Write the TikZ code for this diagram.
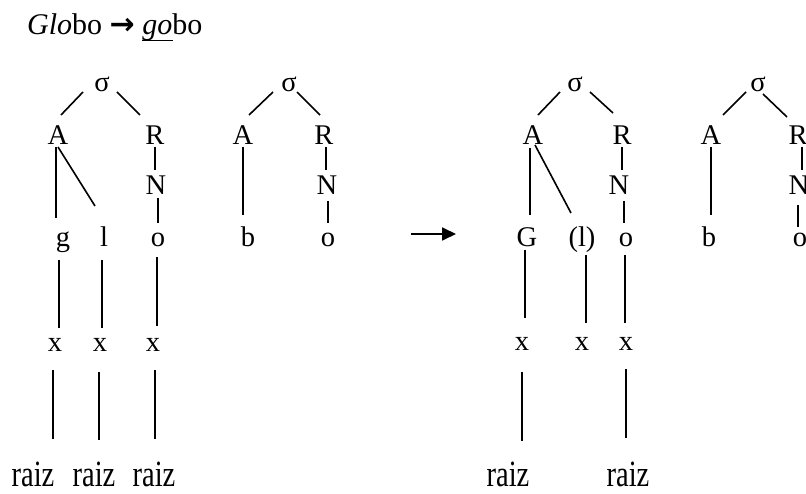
\documentclass[tikz,border=0pt]{standalone}
\usepackage{fontspec}
\setmainfont{Liberation Serif}
\newfontfamily\arrowfont{DejaVu Sans}
\usetikzlibrary{calc,arrows.meta}
\newcommand\mylink[6]{\draw ($(#1.base)+(#2,#3)$) -- ($(#4.base)+(#5,#6)$);}
\newcommand\tallraiz{\scalebox{1}[1.3]{raiz}}
\begin{document}
\begin{tikzpicture}[x=1pt,y=-1pt,
  lbl/.style={anchor=base,inner sep=0pt,font=\fontsize{28.5}{34}\selectfont},
  upper/.style={line width=1.6pt},
  lower/.style={line width=1.3pt}]
\useasboundingbox (0,0) rectangle (806,494);
% title
\node[lbl,anchor=base west,font=\fontsize{30}{36}\selectfont] (title) at (27,35) {\textit{Glo}bo {\arrowfont\bfseries →} \rlap{\rule[-6pt]{31pt}{1.3pt}}\textit{go}bo};
% ---------- tree 1a ----------
\node[lbl] (s1) at (102,92) {σ};
\node[lbl] (a1) at (58,145) {A};
\node[lbl] (r1) at (155,145) {R};
\node[lbl] (n1) at (156,195) {N};
\node[lbl] (g1) at (63,247) {g};
\node[lbl] (l1) at (104,247) {l};
\node[lbl] (o1) at (158,247) {o};
\node[lbl] (x1) at (55,352) {x};
\node[lbl] (x2) at (100,352) {x};
\node[lbl] (x3) at (153,352) {x};
\node[lbl] (z1) at (33,486) {\tallraiz};
\node[lbl] (z2) at (94,486) {\tallraiz};
\node[lbl] (z3) at (154,486) {\tallraiz};
% ---------- tree 1b ----------
\node[lbl] (s2) at (289,92) {σ};
\node[lbl] (a2) at (243,145) {A};
\node[lbl] (r2) at (324,145) {R};
\node[lbl] (n2) at (327,195) {N};
\node[lbl] (b1) at (248,247) {b};
\node[lbl] (o2) at (328,247) {o};
% ---------- tree 2a ----------
\node[lbl] (s3) at (575,92) {σ};
\node[lbl] (a3) at (533,145) {A};
\node[lbl] (r3) at (622,145) {R};
\node[lbl] (n3) at (619,195) {N};
\node[lbl] (G) at (527,247) {G};
\node[lbl] (lp) at (582,247) {(l)};
\node[lbl] (o3) at (626,247) {o};
\node[lbl] (x4) at (522,351) {x};
\node[lbl] (x5) at (582,351) {x};
\node[lbl] (x6) at (626,351) {x};
\node[lbl] (z4) at (508,486) {\tallraiz};
\node[lbl] (z5) at (628,486) {\tallraiz};
% ---------- tree 2b ----------
\node[lbl] (s4) at (758,92) {σ};
\node[lbl] (a4) at (711,145) {A};
\node[lbl] (r4) at (798,145) {R};
\node[lbl] (n4) at (799,195) {N};
\node[lbl] (b2) at (709,247) {b};
\node[lbl] (o4) at (800,247) {o};
% ---------- upper connectors ----------
\begin{scope}[upper]
\mylink{s1}{-19}{0}{a1}{3}{-30}
\mylink{s1}{15}{0}{r1}{-15}{-30}
\mylink{a1}{-2}{2}{g1}{-7}{-29}
\mylink{a1}{0}{2}{l1}{-9}{-41}
\mylink{r1}{0}{2}{n1}{-1}{-25}
\mylink{n1}{2}{3}{o1}{0}{-24}
\mylink{s2}{-16}{0}{a2}{6}{-30}
\mylink{s2}{8}{0}{r2}{-4}{-30}
\mylink{a2}{0}{2}{b1}{-5}{-32}
\mylink{r2}{2}{2}{n2}{-1}{-25}
\mylink{n2}{1}{6}{o2}{0}{-24}
\mylink{s3}{-15}{0}{a3}{5}{-30}
\mylink{s3}{15}{0}{r3}{-9}{-32}
\mylink{a3}{-3}{3}{G}{3}{-32}
\mylink{a3}{2}{0}{lp}{-11}{-34}
\mylink{r3}{0}{2}{n3}{3}{-25}
\mylink{n3}{5}{6}{o3}{-2}{-24}
\mylink{s4}{-12}{0}{a4}{12}{-30}
\mylink{s4}{5}{2}{r4}{-11}{-28}
\mylink{a4}{0}{2}{b2}{2}{-32}
\mylink{r4}{4}{2}{n4}{3}{-25}
\mylink{n4}{-1}{10}{o4}{-2}{-20}
\end{scope}
% ---------- lower connectors ----------
\begin{scope}[lower]
\mylink{g1}{-4}{13}{x1}{4}{-24}
\mylink{l1}{-2}{13}{x2}{2}{-24}
\mylink{o1}{-1}{10}{x3}{4}{-26}
\mylink{x1}{-2}{18}{z1}{20}{-47}
\mylink{x2}{-1}{20}{z2}{5}{-46}
\mylink{x3}{2}{18}{z3}{1}{-47}
\mylink{G}{-2}{3}{x4}{3}{-33}
\mylink{lp}{4}{8}{x5}{4}{-28}
\mylink{o3}{-1}{8}{x6}{-1}{-28}
\mylink{x4}{0}{21}{z4}{14}{-45}
\mylink{x6}{0}{18}{z5}{-2}{-48}
\end{scope}
% ---------- transformation arrow ----------
\coordinate (ar1) at (411,234);
\coordinate (ar2) at (456,234);
\draw[line width=1.8pt,-{Triangle[length=14pt,width=13pt]}] (ar1) -- (ar2);
\end{tikzpicture}
\end{document}
